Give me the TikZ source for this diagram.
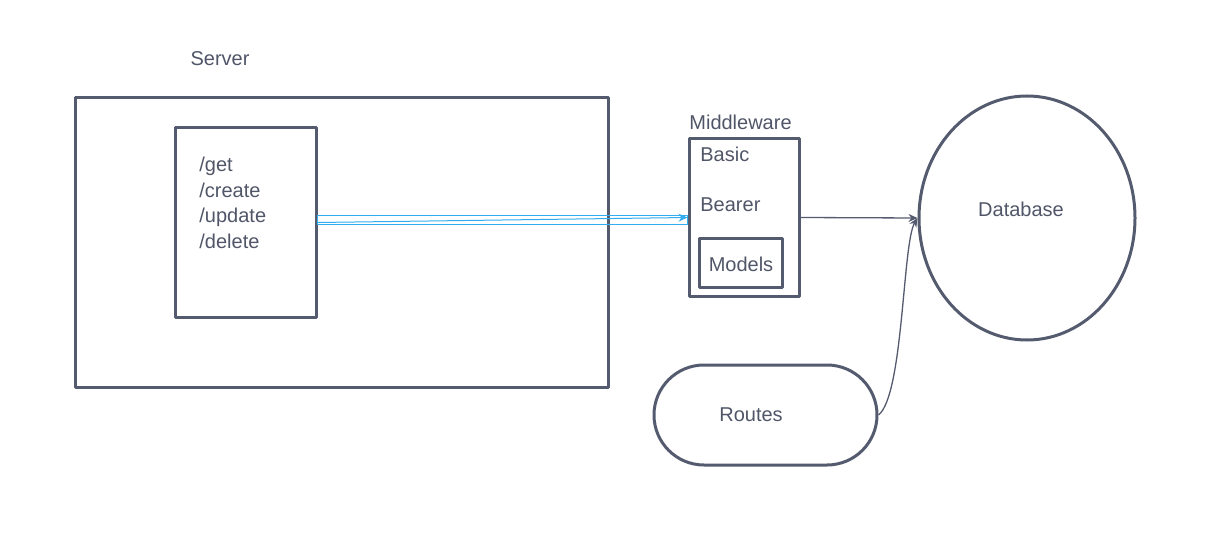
\documentclass[tikz,border=0pt]{standalone}
\usepackage{fontspec}
\setmainfont{Liberation Sans}
\usetikzlibrary{arrows.meta,shapes.geometric,shapes.misc,positioning}
\newlength{\px}
\setlength{\px}{0.5pt}
\definecolor{diaLineColor}{RGB}{85,91,110}
\definecolor{diaTextColor}{RGB}{80,86,104}
\definecolor{diaLinkColor}{RGB}{51,172,240}
\tikzset{
  box/.style={draw=diaLineColor, line width=3\px, inner sep=0pt},
  lbl/.style={text=diaTextColor, font=\fontsize{10}{12.75}\selectfont, inner sep=0pt},
  conn/.style={draw=diaLineColor, line width=0.65pt, -{Stealth[length=4.5pt,width=4pt]}},
  link/.style={draw=diaLinkColor, line width=0.5pt},
}
\begin{document}
\begin{tikzpicture}[x=0.5pt, y=-0.5pt, line join=round]
% Page frame
\useasboundingbox (0,0) rectangle (1227,556);
% Server and its routes
\node[box, minimum width=533\px, minimum height=289\px] (server) at (341.5,242.5) {};
\node[lbl] (servertext) at (220,59) {Server};
\node[box, minimum width=141\px, minimum height=189\px] (routebox) at (245.5,222.5) {};
\node[lbl, anchor=west, align=left] (routelist) at (199,203) {/get\\/create\\/update\\/delete};
% Middleware
\node[box, minimum width=110\px, minimum height=157\px] (mw) at (744,217.5) {};
\node[lbl, anchor=west] (mwtext) at (689,122) {Middleware};
\node[lbl, anchor=west] (basic) at (700,154) {Basic};
\node[lbl, anchor=west] (bearer) at (700,205) {Bearer};
\node[box, minimum width=83\px, minimum height=49\px] (models) at (740.5,262.5) {};
\node[lbl] (modelstext) at (741,264) {Models};
% Database and routes
\node[box, ellipse, minimum width=216\px, minimum height=244\px] (db) at (1027,218) {};
\node[lbl] (dbtext) at (1021,209) {Database};
\node[box, rounded rectangle, minimum width=223\px, minimum height=100\px] (routes) at (765.5,415) {};
\node[lbl] (routestext) at (751,415) {Routes};
% Connectors
\draw[link] ([yshift=-0.75pt]routebox.east) rectangle ([yshift=1.25pt]mw.west);
\draw[link, -{Stealth[length=4.5pt,width=4pt]}] (routebox.east) -- (mw.west);
\draw[conn] (mw.east) -- (db.west);
\draw[conn] (routes.east) .. controls +(25,-20) and +(-15,25) .. (db.west);
\end{tikzpicture}
\end{document}
